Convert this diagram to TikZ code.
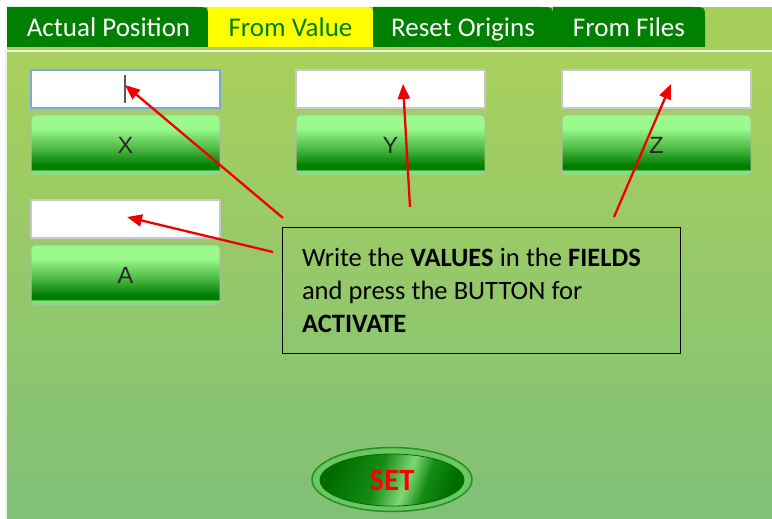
\documentclass[tikz,border=0pt]{standalone}
\usepackage{fontspec}
\setmainfont{Carlito}
\newfontfamily\arialf{Liberation Sans}
\usetikzlibrary{arrows.meta,shapes.geometric}
\newcommand\tightspaces{\spaceskip=6.2pt plus 1pt minus 1pt\relax}
\definecolor{tabdk}{RGB}{0,128,0}
\definecolor{tabyel}{RGB}{255,255,0}
\definecolor{stripbg}{RGB}{166,206,90}
\definecolor{paneltop}{RGB}{168,208,92}
\definecolor{panelbot}{RGB}{128,192,120}
\definecolor{panelline}{RGB}{236,244,226}
\definecolor{fieldgray}{RGB}{200,200,200}
\definecolor{fieldblue}{RGB}{120,170,225}
\definecolor{btnlt}{RGB}{154,250,140}
\definecolor{btnmid}{RGB}{70,180,62}
\definecolor{btndk}{RGB}{0,126,0}
\definecolor{btnbot}{RGB}{130,225,120}
\definecolor{btnborder}{RGB}{175,185,170}
\definecolor{setdk}{RGB}{0,108,0}
\definecolor{setdk2}{RGB}{20,140,20}
\definecolor{setlt}{RGB}{130,215,120}
\definecolor{setring}{RGB}{105,200,95}
\definecolor{setedge}{RGB}{40,140,40}
\definecolor{arrred}{RGB}{240,0,0}
\pgfdeclareverticalshading{btnshade}{100bp}{color(0bp)=(btnbot); color(25bp)=(btnbot); color(28.5bp)=(btnbot); color(30bp)=(btndk); color(33bp)=(btndk); color(46bp)=(btnmid); color(64bp)=(btnlt); color(75bp)=(btnlt); color(100bp)=(btnlt)}
\pgfdeclarehorizontalshading{setshade}{100bp}{color(0bp)=(setdk); color(25bp)=(setdk); color(44bp)=(setdk2); color(56bp)=(setlt); color(64bp)=(setdk2); color(75bp)=(setdk); color(100bp)=(setdk)}
\tikzset{
  tablabel/.style={font=\fontsize{27}{27}\selectfont, inner sep=0, anchor=base},
  fieldbox/.style={draw=fieldgray, line width=1.2, fill=white, minimum width=189, minimum height=38, inner sep=0},
  guibtn/.style={draw=btnborder, line width=1, rounded corners=4, minimum width=189, minimum height=60, inner sep=0, shading=btnshade, font=\arialf\fontsize{23.5}{23.5}\selectfont, text=black!85},
  callout/.style={draw=black, line width=0.9, minimum width=398, minimum height=126, text width=358, align=left, inner sep=0, font=\fontsize{26.5}{33}\selectfont},
  redarrow/.style={draw=arrred, line width=2.3, -{Triangle[length=15pt,width=12pt]}}
}
\begin{document}
\begin{tikzpicture}[x=1pt,y=-1pt]
\useasboundingbox (0,0) rectangle (772,519);
\fill[white] (0,0) rectangle (772,519);
% tab strip background
\fill[stripbg] (7,7) rectangle (772,50);
% tabs
\fill[tabdk] (7,47) -- (7,7) -- (196,7) .. controls (208,7) .. (208,19) -- (208,47) -- cycle;
\fill[tabyel] (208,47) -- (208,7) -- (361,7) .. controls (373,7) .. (373,19) -- (373,47) -- cycle;
\fill[tabdk] (373,47) -- (373,7) -- (541,7) .. controls (553,7) .. (553,19) -- (553,47) -- cycle;
\fill[tabdk] (553,47) -- (553,7) -- (693,7) .. controls (705,7) .. (705,19) -- (705,47) -- cycle;
\node[tablabel, text=white] (t1) at (108.5,37) {Actual Position};
\node[tablabel, text=tabdk] (t2) at (290.5,37) {From Value};
\node[tablabel, text=white] (t3) at (463,37) {Reset Origins};
\node[tablabel, text=white] (t4) at (629,37) {From Files};
% panel
\fill[panelline] (5,50) rectangle (772,53);
\fill[panelline] (5,50) rectangle (7,519);
\fill[top color=paneltop, bottom color=panelbot] (7,53) rectangle (772,519);
% fields
\node[fieldbox, draw=fieldblue] (fx) at (125.5,89) {};
\node[fieldbox] (fy) at (390.5,89) {};
\node[fieldbox] (fz) at (656.5,89) {};
\node[fieldbox] (fa) at (125.5,219) {};
\draw[black!65, line width=1.3] (125,75) -- (125,103);
% buttons
\node[guibtn] (bx) at (125.5,145) {X};
\node[guibtn] (by) at (390.5,145) {Y};
\node[guibtn] (bz) at (656.5,145) {Z};
\node[guibtn] (ba) at (125.5,275) {A};
% callout
\node[callout] (note) at (481,290) {\tightspaces Write the \textbf{VALUES} in the \textbf{FIELDS}\\and press the BUTTON for\\\textbf{ACTIVATE}};
% arrows
\coordinate (s1) at (283,218);
\coordinate (e1) at (125,85);
\coordinate (s2) at (410,207);
\coordinate (e2) at (403,84);
\coordinate (s3) at (614,217);
\coordinate (e3) at (671,84);
\coordinate (s4) at (273,252);
\coordinate (e4) at (127,217);
\draw[redarrow] (s1) -- (e1);
\draw[redarrow] (s2) -- (e2);
\draw[redarrow] (s3) -- (e3);
\draw[redarrow] (s4) -- (e4);
% SET button
\node[ellipse, draw=setedge, line width=1.5, fill=setring, minimum width=160, minimum height=64, inner sep=0] (setouter) at (392,479.5) {};
\node[ellipse, draw=setdk, line width=0.8, shading=setshade, shading angle=-20, minimum width=144, minimum height=52, inner sep=0, text=red, font=\bfseries\fontsize{31}{31}\selectfont] (set) at (392,480) {SET};
\end{tikzpicture}
\end{document}
